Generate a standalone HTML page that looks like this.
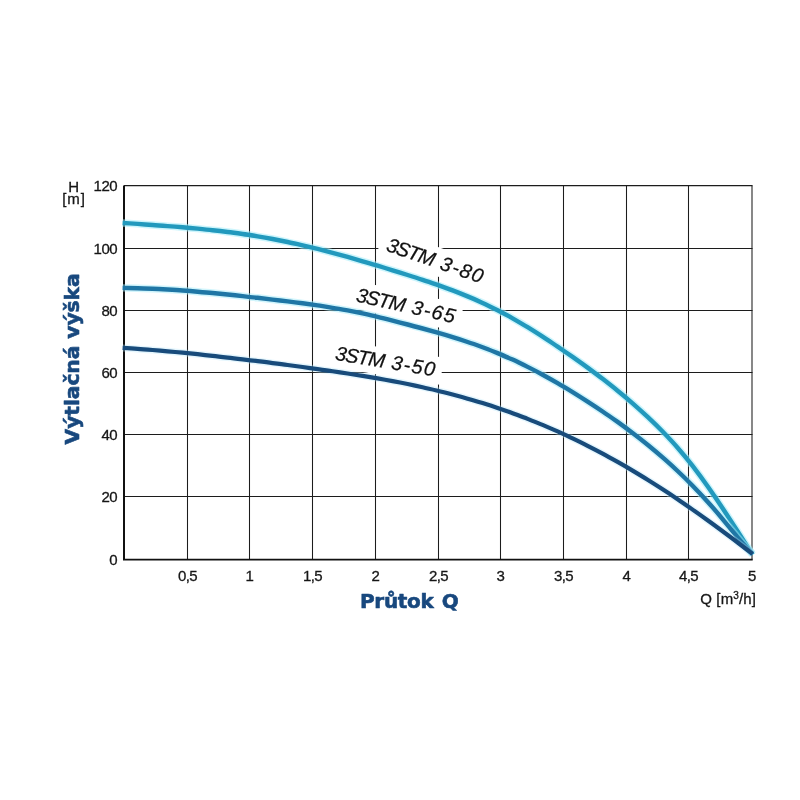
<!DOCTYPE html>
<html lang="cs"><head><meta charset="utf-8"><title>3STM</title>
<style>
html,body{margin:0;padding:0;background:#fff;}
body{width:800px;height:800px;overflow:hidden;}
svg{display:block;}
.n text{font-family:"Liberation Sans",sans-serif;font-size:15px;fill:#161616;letter-spacing:-0.55px;stroke:#161616;stroke-width:0.3px;}
.g line{stroke:#1c1c1c;stroke-width:1.05;}
.b{font-family:"DejaVu Sans","Liberation Sans",sans-serif;font-weight:bold;fill:#18487e;stroke:#18487e;stroke-width:0.6px;stroke-linejoin:round;font-size:20px;}
.l{font-family:"Liberation Sans",sans-serif;font-style:italic;font-size:20px;fill:#111;stroke:#111;stroke-width:0.25px;}
</style></head><body>
<svg width="800" height="800" viewBox="0 0 800 800">
<rect width="800" height="800" fill="#fff"/>
<g class="g"><line x1="187.5" y1="185.5" x2="187.5" y2="559.5"/><line x1="249.5" y1="185.5" x2="249.5" y2="559.5"/><line x1="312.5" y1="185.5" x2="312.5" y2="559.5"/><line x1="375.5" y1="185.5" x2="375.5" y2="559.5"/><line x1="438.5" y1="185.5" x2="438.5" y2="559.5"/><line x1="500.5" y1="185.5" x2="500.5" y2="559.5"/><line x1="563.5" y1="185.5" x2="563.5" y2="559.5"/><line x1="626.5" y1="185.5" x2="626.5" y2="559.5"/><line x1="688.5" y1="185.5" x2="688.5" y2="559.5"/><line x1="752.0" y1="185.5" x2="752.0" y2="559.5"/><line x1="124" y1="185.6" x2="752.5" y2="185.6"/><line x1="124" y1="248.5" x2="752.5" y2="248.5"/><line x1="124" y1="310.5" x2="752.5" y2="310.5"/><line x1="124" y1="372.5" x2="752.5" y2="372.5"/><line x1="124" y1="434.5" x2="752.5" y2="434.5"/><line x1="124" y1="496.5" x2="752.5" y2="496.5"/></g>
<g>
<g transform="translate(387,251) rotate(19.1)"><rect x="-9" y="-20.5" width="115" height="28" fill="#fff"/></g>
<g transform="translate(357,301.7) rotate(12.5)"><rect x="-9" y="-20.3" width="114" height="27.7" fill="#fff"/></g>
<g transform="translate(336.3,360.1) rotate(9.4)"><rect x="-9" y="-20" width="115" height="27.5" fill="#fff"/></g>
</g>
<line x1="124" y1="185.5" x2="124" y2="560" stroke="#111" stroke-width="2"/>
<line x1="123" y1="559.6" x2="752.7" y2="559.6" stroke="#111" stroke-width="1.8"/>
<g class="n"><text x="117" y="191.1" text-anchor="end">120</text><text x="117" y="254.0" text-anchor="end">100</text><text x="117" y="316.0" text-anchor="end">80</text><text x="117" y="378.0" text-anchor="end">60</text><text x="117" y="440.0" text-anchor="end">40</text><text x="117" y="502.0" text-anchor="end">20</text><text x="117" y="564.5" text-anchor="end">0</text><text x="187.5" y="581.2" text-anchor="middle">0,5</text><text x="249.5" y="581.2" text-anchor="middle">1</text><text x="312.5" y="581.2" text-anchor="middle">1,5</text><text x="375.5" y="581.2" text-anchor="middle">2</text><text x="438.5" y="581.2" text-anchor="middle">2,5</text><text x="500.5" y="581.2" text-anchor="middle">3</text><text x="563.5" y="581.2" text-anchor="middle">3,5</text><text x="626.5" y="581.2" text-anchor="middle">4</text><text x="688.5" y="581.2" text-anchor="middle">4,5</text><text x="752.0" y="581.2" text-anchor="middle">5</text>
<text x="73.5" y="191.5" text-anchor="middle">H</text>
<text x="74" y="203.5" text-anchor="middle" style="letter-spacing:0.9px">[m]</text>
<text x="756.2" y="604" text-anchor="end" style="letter-spacing:0.15px;font-size:15px">Q [m<tspan font-size="10" dy="-5.5">3</tspan><tspan dy="5.5">/h]</tspan></text>
</g>
<g fill="none" stroke-linecap="butt">
<path d="M122.6 223.0 C127.6 223.3 132.6 223.6 137.6 223.9 C142.6 224.3 147.6 224.6 152.6 225.0 C157.6 225.3 162.6 225.7 167.6 226.1 C172.6 226.4 177.6 226.8 182.6 227.3 C187.6 227.7 192.6 228.2 197.6 228.6 C202.6 229.1 207.6 229.6 212.6 230.2 C217.6 230.7 222.6 231.3 227.6 232.0 C232.6 232.6 237.6 233.3 242.6 234.0 C247.6 234.7 252.6 235.5 257.6 236.3 C262.6 237.1 267.6 238.0 272.6 239.0 C277.6 239.9 282.6 240.9 287.6 242.0 C292.6 243.0 297.6 244.2 302.6 245.3 C307.6 246.5 312.6 247.7 317.6 248.9 C322.6 250.2 327.6 251.5 332.6 252.8 C337.6 254.2 342.6 255.5 347.6 256.9 C352.6 258.4 357.6 259.8 362.6 261.3 C367.6 262.7 372.6 264.2 377.6 265.7 C382.6 267.2 387.6 268.8 392.6 270.3 C397.6 271.9 402.6 273.4 407.6 275.0 C412.6 276.6 417.6 278.2 422.6 279.9 C427.6 281.5 432.6 283.2 437.6 284.9 C442.6 286.7 447.6 288.5 452.6 290.4 C457.6 292.3 462.6 294.3 467.6 296.4 C472.6 298.4 477.6 300.6 482.6 302.9 C487.6 305.2 492.6 307.7 497.6 310.2 C502.6 312.8 507.6 315.5 512.6 318.3 C517.6 321.2 522.6 324.1 527.6 327.2 C532.6 330.3 537.6 333.4 542.6 336.7 C547.6 339.9 552.6 343.3 557.6 346.6 C562.6 350.0 567.6 353.5 572.6 356.9 C577.6 360.4 582.6 364.0 587.6 367.6 C592.6 371.3 597.6 375.0 602.6 378.8 C607.6 382.7 612.6 386.6 617.6 390.7 C622.6 394.7 627.6 398.9 632.6 403.3 C637.6 407.7 642.6 412.2 647.6 416.9 C652.6 421.6 657.6 426.4 662.6 431.5 C667.6 436.7 672.6 442.0 677.6 447.7 C682.6 453.4 687.6 459.5 692.6 465.9 C697.6 472.4 702.6 479.2 707.6 486.3 C712.6 493.4 717.6 500.7 722.6 508.2 C727.6 515.8 732.6 523.5 737.6 531.2 C742.6 539.0 747.6 546.8 752.6 554.7" stroke="#a4ecf9" stroke-width="7.4" opacity="0.55"/>
<path d="M122.6 223.0 C127.6 223.3 132.6 223.6 137.6 223.9 C142.6 224.3 147.6 224.6 152.6 225.0 C157.6 225.3 162.6 225.7 167.6 226.1 C172.6 226.4 177.6 226.8 182.6 227.3 C187.6 227.7 192.6 228.2 197.6 228.6 C202.6 229.1 207.6 229.6 212.6 230.2 C217.6 230.7 222.6 231.3 227.6 232.0 C232.6 232.6 237.6 233.3 242.6 234.0 C247.6 234.7 252.6 235.5 257.6 236.3 C262.6 237.1 267.6 238.0 272.6 239.0 C277.6 239.9 282.6 240.9 287.6 242.0 C292.6 243.0 297.6 244.2 302.6 245.3 C307.6 246.5 312.6 247.7 317.6 248.9 C322.6 250.2 327.6 251.5 332.6 252.8 C337.6 254.2 342.6 255.5 347.6 256.9 C352.6 258.4 357.6 259.8 362.6 261.3 C367.6 262.7 372.6 264.2 377.6 265.7 C382.6 267.2 387.6 268.8 392.6 270.3 C397.6 271.9 402.6 273.4 407.6 275.0 C412.6 276.6 417.6 278.2 422.6 279.9 C427.6 281.5 432.6 283.2 437.6 284.9 C442.6 286.7 447.6 288.5 452.6 290.4 C457.6 292.3 462.6 294.3 467.6 296.4 C472.6 298.4 477.6 300.6 482.6 302.9 C487.6 305.2 492.6 307.7 497.6 310.2 C502.6 312.8 507.6 315.5 512.6 318.3 C517.6 321.2 522.6 324.1 527.6 327.2 C532.6 330.3 537.6 333.4 542.6 336.7 C547.6 339.9 552.6 343.3 557.6 346.6 C562.6 350.0 567.6 353.5 572.6 356.9 C577.6 360.4 582.6 364.0 587.6 367.6 C592.6 371.3 597.6 375.0 602.6 378.8 C607.6 382.7 612.6 386.6 617.6 390.7 C622.6 394.7 627.6 398.9 632.6 403.3 C637.6 407.7 642.6 412.2 647.6 416.9 C652.6 421.6 657.6 426.4 662.6 431.5 C667.6 436.7 672.6 442.0 677.6 447.7 C682.6 453.4 687.6 459.5 692.6 465.9 C697.6 472.4 702.6 479.2 707.6 486.3 C712.6 493.4 717.6 500.7 722.6 508.2 C727.6 515.8 732.6 523.5 737.6 531.2 C742.6 539.0 747.6 546.8 752.6 554.7" stroke="#2299bd" stroke-width="4.4"/>
<path d="M122.6 287.9 C127.6 288.0 132.6 288.0 137.6 288.2 C142.6 288.3 147.6 288.5 152.6 288.7 C157.6 288.9 162.6 289.2 167.6 289.5 C172.6 289.8 177.6 290.1 182.6 290.5 C187.6 290.8 192.6 291.2 197.6 291.7 C202.6 292.1 207.6 292.5 212.6 293.0 C217.6 293.5 222.6 294.0 227.6 294.5 C232.6 295.0 237.6 295.6 242.6 296.1 C247.6 296.7 252.6 297.3 257.6 297.8 C262.6 298.4 267.6 299.0 272.6 299.6 C277.6 300.2 282.6 300.8 287.6 301.4 C292.6 302.0 297.6 302.7 302.6 303.3 C307.6 304.0 312.6 304.7 317.6 305.4 C322.6 306.2 327.6 306.9 332.6 307.8 C337.6 308.6 342.6 309.5 347.6 310.4 C352.6 311.3 357.6 312.3 362.6 313.4 C367.6 314.5 372.6 315.6 377.6 316.8 C382.6 318.0 387.6 319.3 392.6 320.6 C397.6 321.9 402.6 323.2 407.6 324.5 C412.6 325.9 417.6 327.2 422.6 328.5 C427.6 329.9 432.6 331.3 437.6 332.7 C442.6 334.1 447.6 335.6 452.6 337.2 C457.6 338.7 462.6 340.3 467.6 342.0 C472.6 343.6 477.6 345.4 482.6 347.2 C487.6 349.1 492.6 351.0 497.6 353.1 C502.6 355.2 507.6 357.4 512.6 359.6 C517.6 361.9 522.6 364.4 527.6 366.9 C532.6 369.4 537.6 372.0 542.6 374.7 C547.6 377.4 552.6 380.2 557.6 383.2 C562.6 386.1 567.6 389.1 572.6 392.1 C577.6 395.2 582.6 398.4 587.6 401.6 C592.6 404.8 597.6 408.1 602.6 411.5 C607.6 414.9 612.6 418.4 617.6 421.9 C622.6 425.5 627.6 429.2 632.6 433.0 C637.6 436.8 642.6 440.7 647.6 444.7 C652.6 448.8 657.6 453.0 662.6 457.4 C667.6 461.7 672.6 466.3 677.6 471.0 C682.6 475.7 687.6 480.6 692.6 485.7 C697.6 490.8 702.6 496.1 707.6 501.7 C712.6 507.2 717.6 513.0 722.6 519.1 C727.6 525.1 732.6 531.4 737.6 537.3 C742.6 543.2 747.6 548.9 752.6 553.8" stroke="#a4ecf9" stroke-width="7.4" opacity="0.5"/>
<path d="M122.6 287.9 C127.6 288.0 132.6 288.0 137.6 288.2 C142.6 288.3 147.6 288.5 152.6 288.7 C157.6 288.9 162.6 289.2 167.6 289.5 C172.6 289.8 177.6 290.1 182.6 290.5 C187.6 290.8 192.6 291.2 197.6 291.7 C202.6 292.1 207.6 292.5 212.6 293.0 C217.6 293.5 222.6 294.0 227.6 294.5 C232.6 295.0 237.6 295.6 242.6 296.1 C247.6 296.7 252.6 297.3 257.6 297.8 C262.6 298.4 267.6 299.0 272.6 299.6 C277.6 300.2 282.6 300.8 287.6 301.4 C292.6 302.0 297.6 302.7 302.6 303.3 C307.6 304.0 312.6 304.7 317.6 305.4 C322.6 306.2 327.6 306.9 332.6 307.8 C337.6 308.6 342.6 309.5 347.6 310.4 C352.6 311.3 357.6 312.3 362.6 313.4 C367.6 314.5 372.6 315.6 377.6 316.8 C382.6 318.0 387.6 319.3 392.6 320.6 C397.6 321.9 402.6 323.2 407.6 324.5 C412.6 325.9 417.6 327.2 422.6 328.5 C427.6 329.9 432.6 331.3 437.6 332.7 C442.6 334.1 447.6 335.6 452.6 337.2 C457.6 338.7 462.6 340.3 467.6 342.0 C472.6 343.6 477.6 345.4 482.6 347.2 C487.6 349.1 492.6 351.0 497.6 353.1 C502.6 355.2 507.6 357.4 512.6 359.6 C517.6 361.9 522.6 364.4 527.6 366.9 C532.6 369.4 537.6 372.0 542.6 374.7 C547.6 377.4 552.6 380.2 557.6 383.2 C562.6 386.1 567.6 389.1 572.6 392.1 C577.6 395.2 582.6 398.4 587.6 401.6 C592.6 404.8 597.6 408.1 602.6 411.5 C607.6 414.9 612.6 418.4 617.6 421.9 C622.6 425.5 627.6 429.2 632.6 433.0 C637.6 436.8 642.6 440.7 647.6 444.7 C652.6 448.8 657.6 453.0 662.6 457.4 C667.6 461.7 672.6 466.3 677.6 471.0 C682.6 475.7 687.6 480.6 692.6 485.7 C697.6 490.8 702.6 496.1 707.6 501.7 C712.6 507.2 717.6 513.0 722.6 519.1 C727.6 525.1 732.6 531.4 737.6 537.3 C742.6 543.2 747.6 548.9 752.6 553.8" stroke="#1f76a5" stroke-width="4.4"/>
<path d="M122.6 347.9 C127.6 348.2 132.6 348.5 137.6 348.9 C142.6 349.2 147.6 349.6 152.6 350.0 C157.6 350.4 162.6 350.9 167.6 351.3 C172.6 351.8 177.6 352.2 182.6 352.7 C187.6 353.2 192.6 353.7 197.6 354.2 C202.6 354.8 207.6 355.3 212.6 355.9 C217.6 356.4 222.6 357.0 227.6 357.6 C232.6 358.1 237.6 358.7 242.6 359.3 C247.6 359.9 252.6 360.5 257.6 361.2 C262.6 361.8 267.6 362.4 272.6 363.1 C277.6 363.7 282.6 364.3 287.6 365.0 C292.6 365.7 297.6 366.3 302.6 367.0 C307.6 367.7 312.6 368.4 317.6 369.1 C322.6 369.8 327.6 370.5 332.6 371.3 C337.6 372.0 342.6 372.8 347.6 373.5 C352.6 374.3 357.6 375.1 362.6 375.9 C367.6 376.7 372.6 377.6 377.6 378.4 C382.6 379.3 387.6 380.2 392.6 381.1 C397.6 382.1 402.6 383.0 407.6 384.0 C412.6 385.1 417.6 386.1 422.6 387.2 C427.6 388.3 432.6 389.5 437.6 390.7 C442.6 391.9 447.6 393.2 452.6 394.5 C457.6 395.8 462.6 397.2 467.6 398.7 C472.6 400.1 477.6 401.6 482.6 403.1 C487.6 404.7 492.6 406.3 497.6 408.0 C502.6 409.7 507.6 411.4 512.6 413.2 C517.6 415.1 522.6 416.9 527.6 418.9 C532.6 420.8 537.6 422.9 542.6 424.9 C547.6 427.0 552.6 429.2 557.6 431.4 C562.6 433.7 567.6 436.0 572.6 438.4 C577.6 440.8 582.6 443.2 587.6 445.8 C592.6 448.3 597.6 450.9 602.6 453.6 C607.6 456.3 612.6 459.1 617.6 461.9 C622.6 464.7 627.6 467.6 632.6 470.6 C637.6 473.6 642.6 476.6 647.6 479.7 C652.6 482.8 657.6 486.0 662.6 489.3 C667.6 492.5 672.6 495.8 677.6 499.2 C682.6 502.6 687.6 506.1 692.6 509.6 C697.6 513.1 702.6 516.7 707.6 520.3 C712.6 523.9 717.6 527.6 722.6 531.3 C727.6 535.0 732.6 538.7 737.6 542.5 C742.6 546.3 747.6 550.2 752.6 554.0" stroke="#b4e6f8" stroke-width="7" opacity="0.35"/>
<path d="M122.6 347.9 C127.6 348.2 132.6 348.5 137.6 348.9 C142.6 349.2 147.6 349.6 152.6 350.0 C157.6 350.4 162.6 350.9 167.6 351.3 C172.6 351.8 177.6 352.2 182.6 352.7 C187.6 353.2 192.6 353.7 197.6 354.2 C202.6 354.8 207.6 355.3 212.6 355.9 C217.6 356.4 222.6 357.0 227.6 357.6 C232.6 358.1 237.6 358.7 242.6 359.3 C247.6 359.9 252.6 360.5 257.6 361.2 C262.6 361.8 267.6 362.4 272.6 363.1 C277.6 363.7 282.6 364.3 287.6 365.0 C292.6 365.7 297.6 366.3 302.6 367.0 C307.6 367.7 312.6 368.4 317.6 369.1 C322.6 369.8 327.6 370.5 332.6 371.3 C337.6 372.0 342.6 372.8 347.6 373.5 C352.6 374.3 357.6 375.1 362.6 375.9 C367.6 376.7 372.6 377.6 377.6 378.4 C382.6 379.3 387.6 380.2 392.6 381.1 C397.6 382.1 402.6 383.0 407.6 384.0 C412.6 385.1 417.6 386.1 422.6 387.2 C427.6 388.3 432.6 389.5 437.6 390.7 C442.6 391.9 447.6 393.2 452.6 394.5 C457.6 395.8 462.6 397.2 467.6 398.7 C472.6 400.1 477.6 401.6 482.6 403.1 C487.6 404.7 492.6 406.3 497.6 408.0 C502.6 409.7 507.6 411.4 512.6 413.2 C517.6 415.1 522.6 416.9 527.6 418.9 C532.6 420.8 537.6 422.9 542.6 424.9 C547.6 427.0 552.6 429.2 557.6 431.4 C562.6 433.7 567.6 436.0 572.6 438.4 C577.6 440.8 582.6 443.2 587.6 445.8 C592.6 448.3 597.6 450.9 602.6 453.6 C607.6 456.3 612.6 459.1 617.6 461.9 C622.6 464.7 627.6 467.6 632.6 470.6 C637.6 473.6 642.6 476.6 647.6 479.7 C652.6 482.8 657.6 486.0 662.6 489.3 C667.6 492.5 672.6 495.8 677.6 499.2 C682.6 502.6 687.6 506.1 692.6 509.6 C697.6 513.1 702.6 516.7 707.6 520.3 C712.6 523.9 717.6 527.6 722.6 531.3 C727.6 535.0 732.6 538.7 737.6 542.5 C742.6 546.3 747.6 550.2 752.6 554.0" stroke="#184b7b" stroke-width="4.2"/>
</g>
<g class="l">
<g transform="translate(387,251) rotate(19.1)"><text x="-1.8" y="0"><tspan style="letter-spacing:-1.1px">3STM</tspan><tspan dx="0.8" style="letter-spacing:1.35px"> 3-80</tspan></text></g>
<g transform="translate(357,301.7) rotate(12.5)"><text x="-1.8" y="0"><tspan style="letter-spacing:-1.1px">3STM</tspan><tspan dx="0.8" style="letter-spacing:1.35px"> 3-65</tspan></text></g>
<g transform="translate(336.3,360.1) rotate(9.4)"><text x="-1.8" y="0"><tspan style="letter-spacing:-1.1px">3STM</tspan><tspan dx="0.8" style="letter-spacing:1.35px"> 3-50</tspan></text></g>
</g>
<text class="b" x="360" y="608.4" style="word-spacing:1.6px;letter-spacing:-0.3px">Průtok Q</text>
<text class="b" transform="translate(78.6,444.4) rotate(-90)" style="font-size:20.3px" textLength="171">Výtlačná výška</text>
</svg>
</body></html>
